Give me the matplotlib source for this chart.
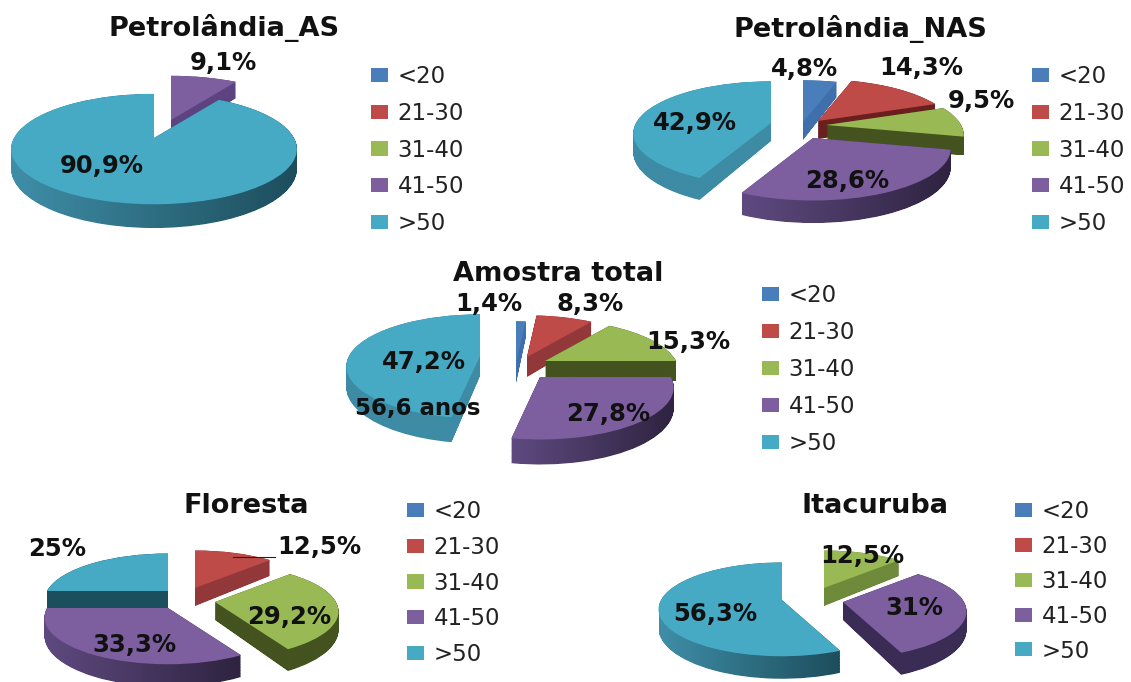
# Pie charts of age groups per municipality, drawn as tilted 3D pies

import numpy as np
import matplotlib
matplotlib.use("Agg")
import matplotlib.pyplot as plt
from matplotlib.colors import LinearSegmentedColormap
from matplotlib.patches import Patch
from matplotlib.path import Path
from matplotlib.transforms import Transform

# Data
faixas = ["<20", "21-30", "31-40", "41-50", ">50"]
petro_as = [0, 0, 0, 9.1, 90.9]
petro_nas = [4.8, 14.3, 9.5, 28.6, 42.9]
amostra = [1.4, 8.3, 15.3, 27.8, 47.2]
floresta = [0, 12.5, 29.2, 33.3, 25]
itacuruba = [0, 0, 12.5, 31, 56.3]

W, H = 1131, 682
cores = ["#4a7ebb", "#be4b48", "#98b954", "#7d5fa0", "#46aac5"]
lados = [("#3f70ac", "#2f5a8f"), ("#a03e3b", "#6e2927"), ("#70903c", "#414f1e"),
         ("#5f4a80", "#2e2340"), ("#3f8ea8", "#1d4d5c")]
lados_escuros = ["#2f5a8f", "#6b1f1e", "#44531f", "#3a2c55", "#1c4f5e"]
lados_medios = ["#3f70ac", "#93383a", "#6e8a3a", "#5d4380", "#3d8ba4"]


class Tilt(Transform):
    # unit circle -> screen, the back of the pie gets smaller than the front
    input_dims = 2
    output_dims = 2
    is_separable = False
    has_inverse = False

    def __init__(self, x0, y0, rx, ry, k, d=0):
        super().__init__()
        self.p = (x0, y0, rx, ry, k, d)

    def transform_non_affine(self, values):
        x0, y0, rx, ry, k, d = self.p
        u, v = values[:, 0], values[:, 1]
        s = 1 / (1 + k * v)
        return np.column_stack([x0 + rx * u * s, y0 + s * (d - ry * v)])


def draw_pie(ax, values, apex, rx, ry, depth, escuros=(), medios=(), k=0.2):
    wedges, _ = ax.pie(values, colors=cores, startangle=90, counterclock=False, radius=1)
    # back slices first
    order = sorted(range(len(values)), key=lambda i: apex[i][1])
    for z, i in enumerate(order):
        w = wedges[i]
        if values[i] == 0:
            w.set_visible(False)
            continue
        x0, y0 = apex[i]
        w.set_transform(Tilt(x0, y0, rx, ry, k) + ax.transData)
        w.set_linewidth(0)
        w.set_zorder(2 + z + 0.5)

        layers = [Tilt(x0, y0, rx, ry, k, d).transform_path(w.get_path())
                  for d in np.linspace(0, depth, 30)]
        side = Path.make_compound_path(*layers)
        xmin, ymin = side.vertices.min(axis=0)
        xmax, ymax = side.vertices.max(axis=0)
        if i in escuros:
            c = (lados_escuros[i], lados_escuros[i])
        elif i in medios:
            c = (lados_medios[i], lados_medios[i])
        else:
            c = lados[i]
        cmap = LinearSegmentedColormap.from_list("lado", c)
        im = ax.imshow(np.linspace(0, 1, 128)[None, :], cmap=cmap, aspect="auto",
                       extent=(xmin, xmax, ymax, ymin), zorder=2 + z)
        im.set_clip_path(side, ax.transData)


def draw_legend(fig, x, y, gap):
    handles = [Patch(color=c, linewidth=0) for c in cores]
    fontsize = 16.5
    fig.legend(handles, faixas, loc="upper left", bbox_to_anchor=(x / W, 1 - y / H),
               frameon=False, fontsize=fontsize, borderpad=0, borderaxespad=0,
               handlelength=0.74, handleheight=0.57, handletextpad=0.42,
               labelspacing=gap / (fontsize * 100 / 72) - 1.0, labelcolor="#222222")


def label(ax, x, y, txt, size=17.5):
    ax.text(x, y, txt, ha="center", va="center", fontsize=size, fontweight="bold",
            color="#111111", zorder=30)


fig = plt.figure(figsize=(W / 100, H / 100), dpi=100)
ax = fig.add_axes([0, 0, 1, 1])
ax.set_autoscale_on(False)

# Petrolandia_AS
draw_pie(ax, petro_as, [(0, 0), (0, 0), (0, 0), (171, 120), (154, 138)], 140, 53, 19,
         medios=(3,))
label(ax, 224, 28, "Petrolândia_AS", 19.5)
label(ax, 223, 63, "9,1%")
label(ax, 102, 166, "90,9%")
draw_legend(fig, 371, 65, 36.7)

# Petrolandia_NAS
draw_pie(ax, petro_nas, [(803, 122), (818, 121), (826, 125), (813, 138), (771, 123)],
         135, 50, 18, escuros=(1, 2), medios=(0, 4))
label(ax, 860, 29, "Petrolândia_NAS", 19.5)
label(ax, 804, 69, "4,8%")
label(ax, 921, 68, "14,3%")
label(ax, 981, 101, "9,5%")
label(ax, 847, 181, "28,6%")
label(ax, 695, 123, "42,9%")
draw_legend(fig, 1032, 65, 36.7)

# Amostra total
draw_pie(ax, amostra, [(516, 363), (527, 357), (545, 361), (540, 377), (480, 356)],
         131, 50, 20, escuros=(2,), medios=(0, 1, 4))
label(ax, 558, 274, "Amostra total", 19.5)
label(ax, 489, 304, "1,4%")
label(ax, 590, 304, "8,3%")
label(ax, 688, 342, "15,3%")
label(ax, 424, 362, "47,2%")
label(ax, 418, 409, "56,6 anos", 16.5)
label(ax, 608, 414, "27,8%")
draw_legend(fig, 762, 284, 37)

# Floresta
draw_pie(ax, floresta, [(0, 0), (195, 588), (215, 602), (168, 608), (168, 591)],
         121, 45, 18, escuros=(2, 4), medios=(1,))
label(ax, 246, 506, "Floresta", 19.5)
label(ax, 57, 549, "25%")
label(ax, 319, 547, "12,5%")
label(ax, 289, 617, "29,2%")
label(ax, 134, 645, "33,3%")
ax.plot([233, 275], [557, 557], color="#222222", lw=0.8, zorder=29)
draw_legend(fig, 407, 500, 35.7)

# Itacuruba
draw_pie(ax, itacuruba, [(0, 0), (0, 0), (824, 588), (843, 602), (782, 600)],
         121, 45, 18, escuros=(3,), medios=(2,))
label(ax, 875, 506, "Itacuruba", 19.5)
label(ax, 862, 556, "12,5%")
label(ax, 914, 608, "31%")
label(ax, 715, 614, "56,3%")
draw_legend(fig, 1015, 500, 34.8)

ax.set_aspect("auto")
ax.set_xlim(0, W)
ax.set_ylim(H, 0)
ax.axis("off")

plt.savefig("out.png", dpi=100)
